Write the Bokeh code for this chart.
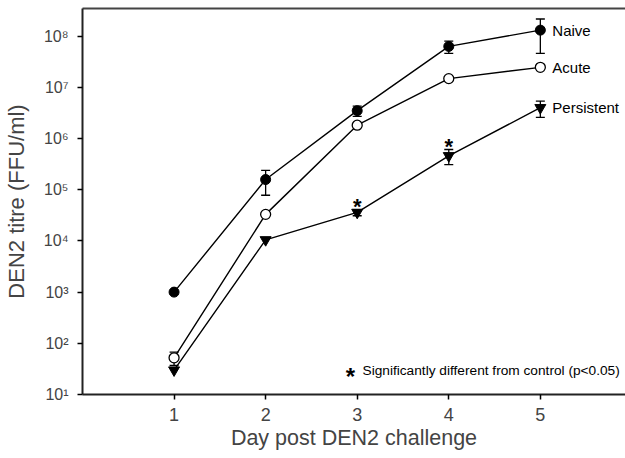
from bokeh.plotting import figure
from bokeh.models import (ColumnDataSource, Whisker, TeeHead, FixedTicker,
                          CustomJSTickFormatter, LinearAxis, Label)
from bokeh.core.properties import value
from bokeh.embed import file_html
from bokeh.resources import INLINE

# ---- data ----
days = [1, 2, 3, 4, 5]
naive = [1.0e3, 1.58e5, 3.5e6, 6.3e7, 1.31e8]
naive_sem = [0, 8.0e4, 8.0e5, 1.7e7, 8.5e7]
acute = [52, 3.3e4, 1.82e6, 1.48e7, 2.46e7]
acute_sem = [15, 0, 0, 0, 0]
persistent = [30, 1.05e4, 3.6e4, 4.6e5, 4.0e6]
persistent_sem = [0, 0, 5.0e3, 1.5e5, 1.4e6]
series_names = ["Naive", "Acute", "Persistent"]
sig_days = [3, 4]
y_exponents = [1, 2, 3, 4, 5, 6, 7, 8]
footnote = "Significantly different from control (p<0.05)"

FONT = "Liberation Sans"

p = figure(width=625, height=458, x_range=(0, 5.93), y_range=(10, 10 ** 8.54),
           y_axis_type="log", output_backend="svg", toolbar_location=None,
           min_border_left=82, min_border_right=0, min_border_top=8,
           min_border_bottom=64)
p.outline_line_color = None
p.xgrid.visible = False
p.ygrid.visible = False
p.background_fill_color = "white"
p.border_fill_color = "white"

# x axis
xa = p.xaxis[0]
xa.ticker = FixedTicker(ticks=days)
xa.axis_label = "Day post DEN2 challenge"
xa.axis_label_text_font = FONT
xa.axis_label_text_font_size = "21.5px"
xa.axis_label_text_font_style = "normal"
xa.axis_label_standoff = 2
xa.major_label_text_font = FONT
xa.major_label_text_font_size = "18px"
xa.major_label_standoff = 8
xa.axis_line_width = 2
xa.axis_line_color = "#222222"
xa.major_tick_line_width = 1.5
xa.major_tick_in = 0
xa.major_tick_out = 5
xa.minor_tick_line_color = None

# y axis
ya = p.yaxis[0]
ya.ticker = FixedTicker(ticks=[10 ** e for e in y_exponents])
ya.formatter = CustomJSTickFormatter(code="""
const sup = {'0':'\u2070','1':'\u00b9','2':'\u00b2','3':'\u00b3','4':'\u2074',
             '5':'\u2075','6':'\u2076','7':'\u2077','8':'\u2078','9':'\u2079','-':'\u207b'};
const e = Math.round(Math.log10(tick));
return '10' + String(e).split('').map(c => sup[c]).join('');
""")
ya.axis_label = "DEN2 titre (FFU/ml)"
ya.axis_label_text_font = FONT
ya.axis_label_text_font_size = "22px"
ya.axis_label_text_font_style = "normal"
ya.axis_label_standoff = 12
ya.major_label_text_font = FONT
ya.major_label_text_font_size = "16px"
ya.major_label_standoff = 9
ya.axis_line_width = 2
ya.axis_line_color = "#222222"
ya.major_tick_line_width = 1.5
ya.major_tick_in = 0
ya.major_tick_out = 5
ya.minor_tick_line_color = None

# top border line (as axis without ticks/labels)
top = LinearAxis(ticker=FixedTicker(ticks=[]), major_tick_line_color=None,
                 minor_tick_line_color=None, major_label_text_font_size="0px",
                 axis_line_width=2, axis_line_color="#444444")
p.add_layout(top, "above")

# error bars
def add_err(vals, sems):
    xs = [d for d, s in zip(days, sems) if s > 0]
    up = [v + s for v, s in zip(vals, sems) if s > 0]
    lo = [v - s for v, s in zip(vals, sems) if s > 0]
    src = ColumnDataSource(dict(x=xs, upper=up, lower=lo))
    w = Whisker(source=src, base="x", upper="upper", lower="lower",
                dimension="height", line_color="black", line_width=1.3,
                upper_head=TeeHead(size=9, line_color="black", line_width=1.3),
                lower_head=TeeHead(size=9, line_color="black", line_width=1.3))
    p.add_layout(w)

add_err(naive, naive_sem)
add_err(acute, acute_sem)
add_err(persistent, persistent_sem)

# lines
for vals in (naive, acute, persistent):
    p.line(days, vals, line_color="black", line_width=1.4)

# markers
p.scatter(days, naive, marker="circle", size=10, fill_color="black", line_color="black")
p.scatter(days, acute, marker="circle", size=10, fill_color="white", line_color="black",
          line_width=1.3)
p.scatter(days, persistent, marker="inverted_triangle", size=11, fill_color="black",
          line_color="black")

# series labels
p.text(x=[days[-1]] * 3, y=[naive[-1], acute[-1], persistent[-1]], text=series_names,
       x_offset=12, text_baseline="middle", text_align="left",
       text_font=value(FONT), text_font_size="15px", text_color="black")

# significance asterisks
sig_y = [persistent[days.index(d)] + persistent_sem[days.index(d)] for d in sig_days]
p.text(x=sig_days, y=sig_y, text=["*"] * len(sig_days), y_offset=-3,
       text_baseline="middle", text_align="center", text_font=value(FONT),
       text_font_size="22px", text_font_style="bold", text_color="black")

# footnote
p.add_layout(Label(x=268, y=18, x_units="screen", y_units="screen", text="*",
                   text_font=FONT, text_font_size="24px", text_font_style="bold",
                   text_align="center", text_baseline="middle", text_color="black"))
p.add_layout(Label(x=280, y=24, x_units="screen", y_units="screen", text=footnote,
                   text_font=FONT, text_font_size="13.7px", text_align="left",
                   text_baseline="middle", text_color="black"))

open("out.html", "w").write(file_html(p, INLINE))
